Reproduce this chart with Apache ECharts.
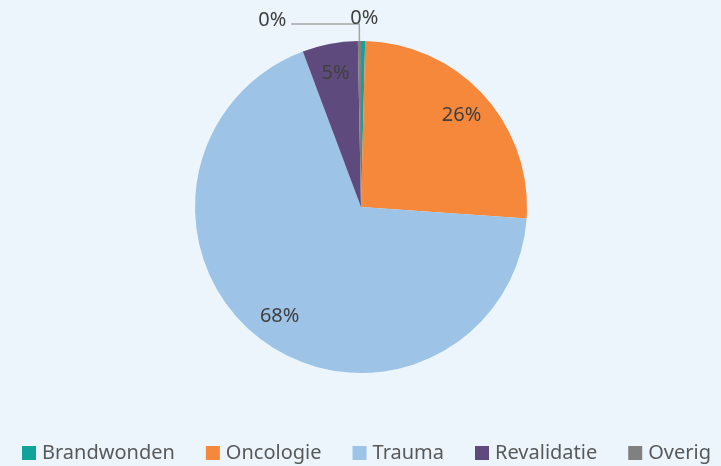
<!DOCTYPE html>
<html>
<head>
<meta charset="utf-8">
<script src="https://cdn.jsdelivr.net/npm/echarts@6/dist/echarts.min.js"></script>
<style>
  html, body { margin:0; padding:0; background:#EBF5FB; }
  #chart { width:721px; height:466px; }
</style>
</head>
<body>
<div id="chart"></div>
<script type="text/javascript">
var categories = ['Brandwonden', 'Oncologie', 'Trauma', 'Revalidatie', 'Overig'];
var values = [0.4, 25.7, 68.2, 5.4, 0.3];
var colors = ['#0FA39B', '#F5883A', '#9DC3E6', '#5F4A7D', '#808080'];

var font = 'Noto Sans';
var myChart = echarts.init(document.getElementById('chart'));

function pct(params) {
  return Math.round(params.percent) + '%';
}

// main pie, only the tiny slices get outside labels
var mainData = [];
// overlay ring, only for the inside labels (placed further out)
var ringData = [];
for (var i = 0; i < categories.length; i++) {
  var small = values[i] < 1;
  mainData.push({
    name: categories[i],
    value: values[i],
    itemStyle: { color: colors[i] },
    label: { show: small },
    labelLine: { show: false }
  });
  ringData.push({
    name: categories[i],
    value: values[i],
    itemStyle: { color: 'transparent' },
    label: { show: !small }
  });
}
// Brandwonden: label straight above, no line
mainData[0].label = { show: true, distanceToLabelLine: -13 };
mainData[0].labelLine = { show: false, length: 23, length2: 0 };
// Overig: label pulled to the left with a leader line
mainData[4].label = { show: true };
mainData[4].labelLine = { show: true, length: 17, length2: 68, lineStyle: { color: '#A6A6A6', width: 1.5 } };

var option = {
  backgroundColor: '#EBF5FB',
  animation: false,
  legend: {
    data: categories,
    left: 17,
    top: 438,
    icon: 'rect',
    itemWidth: 14,
    itemHeight: 14,
    itemGap: 31,
    textStyle: { fontFamily: font, fontSize: 20, color: '#595959', padding: [0, 0, 0, 1] }
  },
  series: [{
    name: 'main',
    type: 'pie',
    center: [361, 207],
    radius: 166,
    startAngle: 90,
    clockwise: true,
    avoidLabelOverlap: false,
    label: {
      position: 'outside',
      formatter: pct,
      fontFamily: font,
      fontSize: 20,
      color: '#404040'
    },
    labelLayout: function (params) {
      if (params.dataIndex === 4) {
        return { dy: -4 };
      }
    },
    itemStyle: { borderWidth: 0 },
    emphasis: { disabled: true },
    data: mainData
  }, {
    name: 'labels',
    type: 'pie',
    center: [361, 207],
    radius: [100, 166],
    startAngle: 90,
    clockwise: true,
    silent: true,
    avoidLabelOverlap: false,
    label: {
      position: 'inside',
      formatter: pct,
      fontFamily: font,
      fontSize: 20,
      color: '#404040'
    },
    labelLine: { show: false },
    emphasis: { disabled: true },
    data: ringData
  }]
};
myChart.setOption(option);
</script>
</body>
</html>
